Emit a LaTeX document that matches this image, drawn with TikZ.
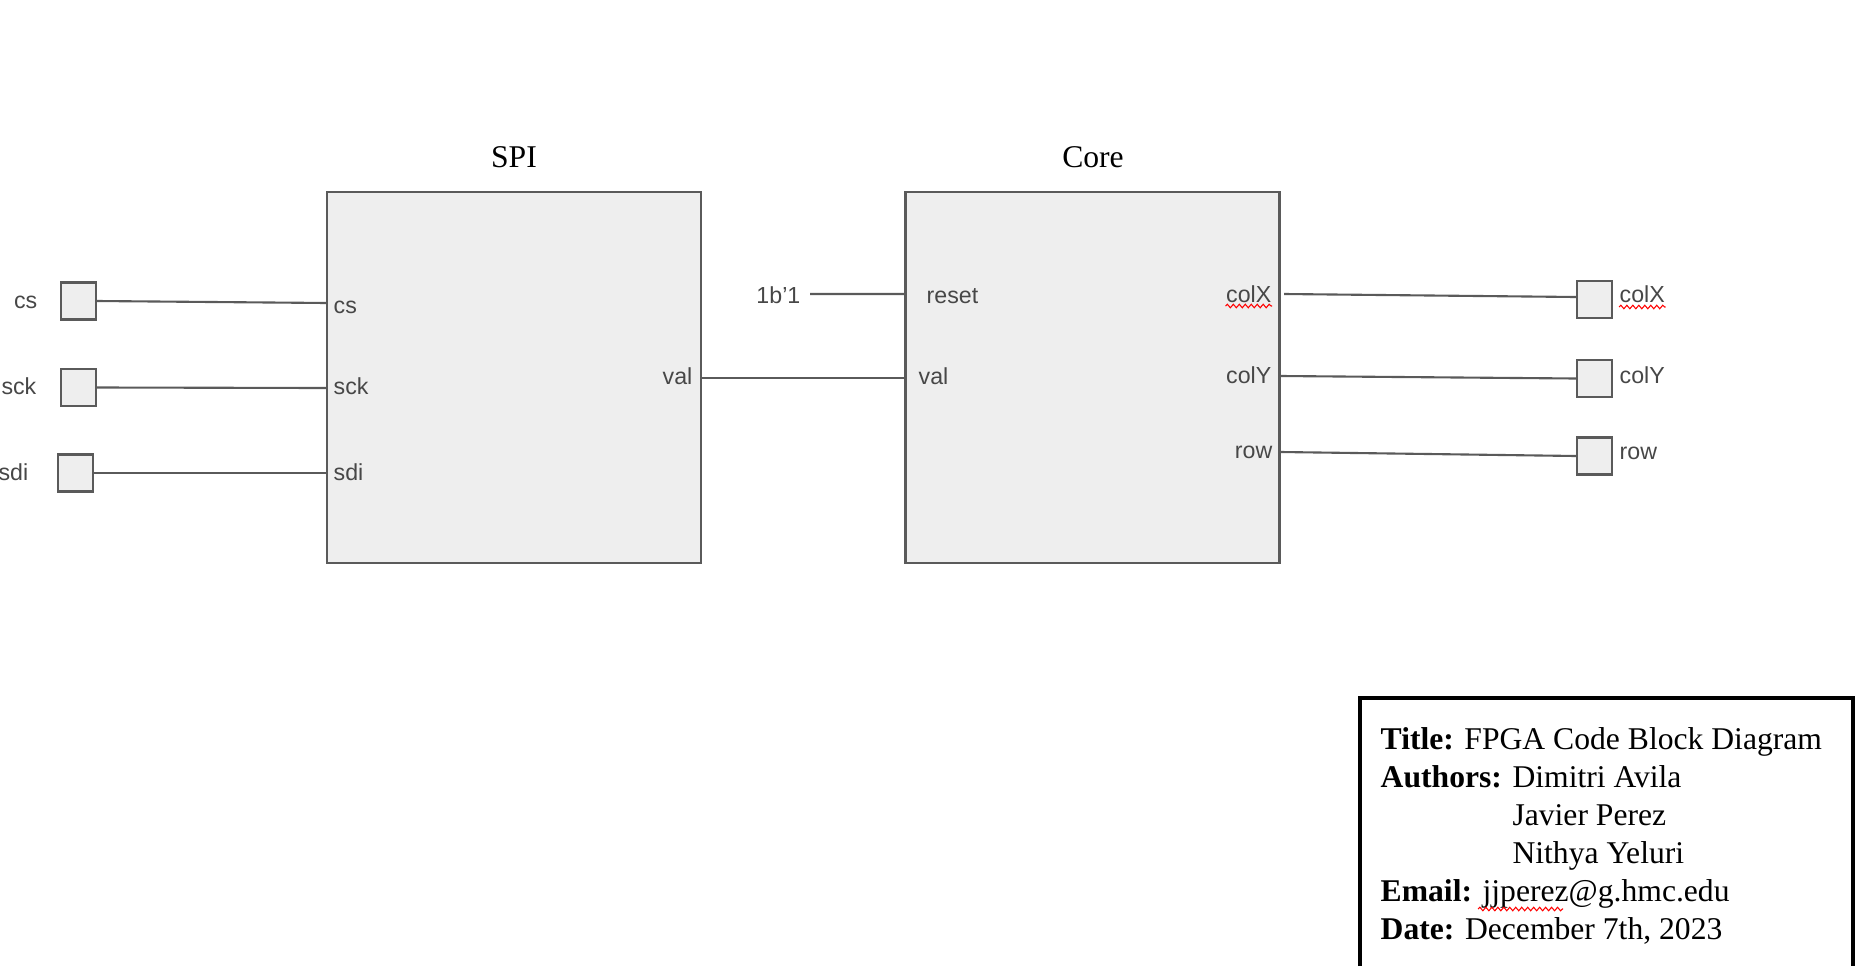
\documentclass[tikz,border=0pt]{standalone}
\usepackage{fontspec}
\setmainfont{Liberation Serif}
\setsansfont{Liberation Sans}
\usetikzlibrary{positioning,decorations.pathmorphing}
\definecolor{boxfill}{HTML}{EEEEEE}
\definecolor{wire}{HTML}{5A5A5A}
\definecolor{lblgray}{HTML}{474747}
\begin{document}
\begin{tikzpicture}[
  block/.style={draw=wire,fill=boxfill,line width=0.6pt,minimum width=3.74cm,minimum height=3.71cm},
  pin/.style={draw=wire,fill=boxfill,line width=0.6pt,minimum width=0.35cm,minimum height=0.37cm,inner sep=0pt},
  wireline/.style={draw=wire,line width=0.6pt},
  lbl/.style={text=lblgray,font=\sffamily\fontsize{6.6}{7.9}\selectfont,inner sep=0pt},
  ttl/.style={font=\fontsize{9}{10.8}\selectfont,inner sep=0pt},
  squiggle/.style={draw=red,line width=0.3pt,decorate,decoration={snake,amplitude=0.5pt,segment length=1.7pt}}]
\useasboundingbox (0,0) rectangle (18.6,9.66);
%blocks
\node[block] (spi) at (5.14,5.885) {};
\node[block] (core) at (10.925,5.885) {};
\node[ttl,anchor=base] (spiT) at (5.14,7.99) {SPI};
\node[ttl,anchor=base] (coreT) at (10.93,7.99) {Core};
%input pins
\node[pin] (csP) at (0.785,6.65) {};
\node[pin] (sckP) at (0.785,5.785) {};
\node[pin] (sdiP) at (0.755,4.93) {};
\node[lbl,anchor=base east] (csL) at (0.38,6.58) {cs};
\node[lbl,anchor=base east] (sckL) at (0.37,5.72) {sck};
\node[lbl,anchor=base east] (sdiL) at (0.29,4.86) {sdi};
\coordinate (spiCs) at (3.27,6.63);
\coordinate (spiSck) at (3.27,5.78);
\coordinate (spiSdi) at (3.27,4.93);
\draw[wireline] (csP.east) -- (spiCs);
\draw[wireline] (sckP.east) -- (spiSck);
\draw[wireline] (sdiP.east) -- (spiSdi);
\node[lbl,anchor=base west] (spiCsL) at (3.33,6.53) {cs};
\node[lbl,anchor=base west] (spiSckL) at (3.33,5.72) {sck};
\node[lbl,anchor=base west] (spiSdiL) at (3.33,4.86) {sdi};
%spi to core
\node[lbl,anchor=base east] (spiValL) at (6.93,5.82) {val};
\coordinate (spiVal) at (7.01,5.88);
\coordinate (coreVal) at (9.06,5.88);
\draw[wireline] (spiVal) -- (coreVal);
\node[lbl,anchor=base west] (coreValL) at (9.18,5.82) {val};
\node[lbl,anchor=base east] (one) at (8.01,6.63) {1b’1};
\coordinate (coreReset) at (9.06,6.72);
\draw[wireline] ([xshift=0.9mm,yshift=0.9mm]one.base east) -- (coreReset);
\node[lbl,anchor=base west] (resetL) at (9.26,6.63) {reset};
%outputs
\node[lbl,anchor=base east] (colxL) at (12.72,6.64) {colX};
\node[lbl,anchor=base east] (colyL) at (12.72,5.83) {colY};
\node[lbl,anchor=base east] (rowL) at (12.73,5.08) {row};
\node[pin] (colxP) at (15.945,6.665) {};
\node[pin] (colyP) at (15.945,5.875) {};
\node[pin] (rowP) at (15.945,5.10) {};
\coordinate (coreColx) at (12.84,6.72);
\coordinate (coreColy) at (12.81,5.90);
\coordinate (coreRow) at (12.81,5.14);
\draw[wireline] (coreColx) -- ([yshift=0.25mm]colxP.west);
\draw[wireline] (coreColy) -- (colyP.west);
\draw[wireline] (coreRow) -- (rowP.west);
\node[lbl,anchor=base west] (colxO) at (16.19,6.64) {colX};
\node[lbl,anchor=base west] (colyO) at (16.19,5.83) {colY};
\node[lbl,anchor=base west] (rowO) at (16.19,5.07) {row};
\draw[squiggle] ([yshift=-0.4mm]colxL.base west) -- ([yshift=-0.4mm]colxL.base east);
\draw[squiggle] ([yshift=-0.5mm]colxO.base west) -- ([yshift=-0.5mm]colxO.base east);
%title block
\draw[line width=0.9pt] (13.60,0) |- (18.53,2.68) -- (18.53,0);
\node[ttl,anchor=base west,align=left] (info) at (13.80,0.27) {\textbf{Title:} FPGA Code Block Diagram\\
  \textbf{Authors:} Dimitri Avila\\
  \phantom{\textbf{Authors:} }Javier Perez\\
  \phantom{\textbf{Authors:} }Nithya Yeluri\\
  \textbf{Email:} jjperez@g.hmc.edu\\
  \textbf{Date:} December 7th, 2023};
\draw[squiggle] (14.78,0.57) -- (15.63,0.57);
\end{tikzpicture}
\end{document}
